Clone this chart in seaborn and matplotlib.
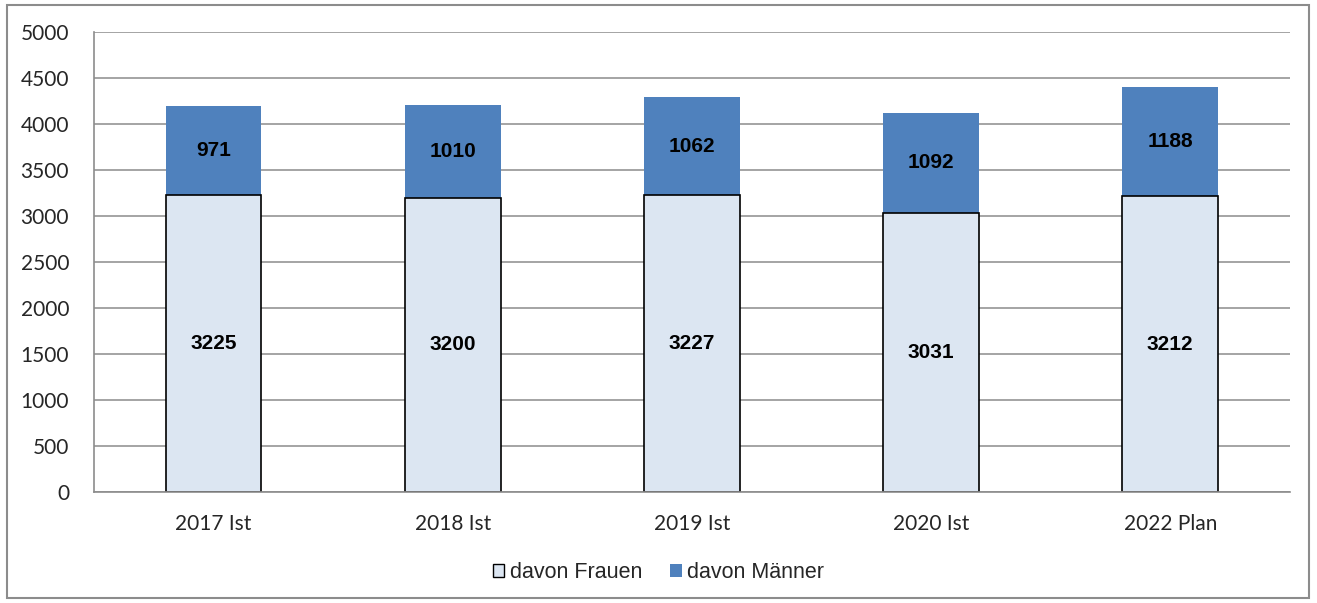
import matplotlib
matplotlib.use("Agg")
import matplotlib.pyplot as plt
import seaborn as sns
import pandas as pd
from matplotlib.patches import Patch, Rectangle

# Data
categories = ["2017 Ist", "2018 Ist", "2019 Ist", "2020 Ist", "2022 Plan"]
frauen = [3225, 3200, 3227, 3031, 3212]
maenner = [971, 1010, 1062, 1092, 1188]

FRAUEN_COLOR = "#DCE6F2"
MAENNER_COLOR = "#4F81BD"
GRAY = "#8C8C8C"

df = pd.DataFrame({"Jahr": categories, "Frauen": frauen, "Maenner": maenner})
df["Gesamt"] = df["Frauen"] + df["Maenner"]

sns.set_theme(style="white")
plt.rcParams["font.family"] = ["Liberation Sans", "DejaVu Sans"]

fig = plt.figure(figsize=(13.17, 6.03), dpi=100)
ax = fig.add_axes([0.0714, 0.184, 0.908, 0.763])

# Stacked bars: total (Männer colour) underneath, Frauen drawn over the bottom part
sns.barplot(data=df, x="Jahr", y="Gesamt", color=MAENNER_COLOR, saturation=1,
            width=0.4, linewidth=0, ax=ax)
sns.barplot(data=df, x="Jahr", y="Frauen", color=FRAUEN_COLOR, saturation=1,
            width=0.4, edgecolor="black", linewidth=1.2, ax=ax)

# Value labels
for i, (f, m) in enumerate(zip(frauen, maenner)):
    ax.text(i, f / 2, str(f), ha="center", va="center", fontsize=15,
            fontweight="bold", color="black")
    ax.text(i, f + m / 2, str(m), ha="center", va="center", fontsize=15,
            fontweight="bold", color="black")

# Axes styling
ax.set_ylim(0, 5000)
ax.set_xlim(-0.5, 4.5)
ax.set_yticks(range(0, 5001, 500))
ax.yaxis.grid(True, color=GRAY, linewidth=1.1)
ax.set_axisbelow(True)
ax.set_xlabel("")
ax.set_ylabel("")
for side in ["top", "right"]:
    ax.spines[side].set_visible(False)
for side in ["left", "bottom"]:
    ax.spines[side].set_color(GRAY)
    ax.spines[side].set_linewidth(1.2)

ax.set_xticks(range(len(categories)))
ax.set_xticklabels(categories, fontfamily="Lato", fontsize=15)
ax.set_xticks([x - 0.5 for x in range(len(categories) + 1)], minor=True)
ax.tick_params(axis="x", which="major", length=0, pad=16)
ax.tick_params(axis="x", which="minor", length=6, width=1.1, color=GRAY, direction="out")
ax.tick_params(axis="y", length=7, width=1.1, color=GRAY, direction="out", pad=11)
for lbl in ax.get_yticklabels():
    lbl.set_fontfamily("Lato")
    lbl.set_fontsize(15)

# Legend
handles = [Patch(facecolor=FRAUEN_COLOR, edgecolor="black", linewidth=1.0, label="davon Frauen"),
           Patch(facecolor=MAENNER_COLOR, edgecolor="none", label="davon Männer")]
fig.legend(handles=handles, loc="center", bbox_to_anchor=(0.5, 0.05), ncol=2,
           frameon=False, fontsize=15.5, handlelength=0.55, handleheight=0.55,
           handletextpad=0.25, columnspacing=1.3)

# Outer frame
fig.patches.append(Rectangle((0.005, 0.008), 0.989, 0.984, transform=fig.transFigure,
                             fill=False, edgecolor=GRAY, linewidth=1.5))

fig.savefig("out.png", dpi=100)
